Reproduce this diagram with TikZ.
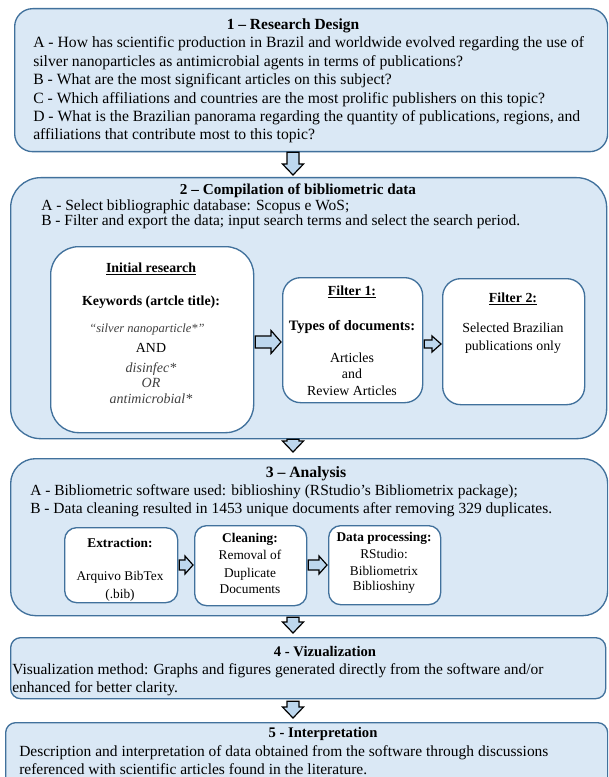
\documentclass[tikz,border=0pt]{standalone}
\usepackage{fontspec}
\setmainfont{Liberation Serif}
\usetikzlibrary{calc}
\definecolor{boxfill}{HTML}{DAE8F5}
\definecolor{boxline}{HTML}{41719C}
\definecolor{arrfill}{HTML}{BDD7EE}
\definecolor{kwgray}{HTML}{404040}
\tikzset{
  stage/.style={draw=boxline, fill=boxfill, line width=1pt, inner sep=0pt, anchor=north west},
  innerbox/.style={draw=boxline, fill=white, line width=1pt, inner sep=0pt, anchor=north west},
  blockarrow/.style={draw=black, fill=arrfill, line width=0.9pt, line join=miter},
  ttl/.style={font=\fontsize{11.6}{14}\selectfont\bfseries, inner sep=0pt, anchor=base},
  ttlsm/.style={font=\fontsize{11}{14}\selectfont\bfseries, inner sep=0pt, anchor=base},
  txta/.style={font=\fontsize{11.75}{13.8}\selectfont, inner sep=0pt, anchor=base west},
  txtc/.style={font=\fontsize{11.6}{13.8}\selectfont, inner sep=0pt, anchor=base west},
  itxt/.style={font=\fontsize{10.4}{12}\selectfont, inner sep=0pt, anchor=base},
  ibold/.style={font=\fontsize{10.4}{12}\selectfont\bfseries, inner sep=0pt, anchor=base},
  stxt/.style={font=\fontsize{10}{12}\selectfont, inner sep=0pt, anchor=base},
  sbold/.style={font=\fontsize{10}{12}\selectfont\bfseries, inner sep=0pt, anchor=base},
  ikw/.style={font=\fontsize{10.5}{12}\selectfont\itshape, text=kwgray, inner sep=0pt, anchor=base},
}
% box: name, style, x1, y1, x2, y2, radius (px)
\newcommand\mkbox[7]{\node[#2, rounded corners=#7*0.75pt, minimum width={(#5-#3)*0.75pt}, minimum height={(#6-#4)*0.75pt}] (#1) at (#3,#4) {};}
% down block arrow: from, to, top gap, bottom gap (px)
\newcommand\darrow[4]{\draw[blockarrow] let \p1=(#1.south -| axis), \p2=(#2.north -| axis) in
  (\x1-4.5pt,\y1-#3*0.75pt) -- (\x1+4.5pt,\y1-#3*0.75pt) -- (\x1+4.5pt,\y2+#4*0.75pt+8.25pt) -- (\x1+7.9pt,\y2+#4*0.75pt+8.25pt) -- (\x1,\y2+#4*0.75pt) -- (\x1-7.9pt,\y2+#4*0.75pt+8.25pt) -- (\x1-4.5pt,\y2+#4*0.75pt+8.25pt) -- cycle;}
% right block arrow: from, to, y (px), shaft half, head half, head length (px)
\newcommand\rarrow[6]{\draw[blockarrow] let \p1=(#1.east), \p2=(#2.west) in
  (\x1+0.75pt,-#3*0.75pt+#4*0.75pt) -- (\x2-0.75pt-#6*0.75pt,-#3*0.75pt+#4*0.75pt) -- (\x2-0.75pt-#6*0.75pt,-#3*0.75pt+#5*0.75pt) -- (\x2-0.75pt,-#3*0.75pt) -- (\x2-0.75pt-#6*0.75pt,-#3*0.75pt-#5*0.75pt) -- (\x2-0.75pt-#6*0.75pt,-#3*0.75pt-#4*0.75pt) -- (\x1+0.75pt,-#3*0.75pt-#4*0.75pt) -- cycle;}
\begin{document}
\begin{tikzpicture}[x=0.75pt,y=-0.75pt]
\clip (0,0) rectangle (608,777);
\fill[white] (0,0) rectangle (608,777);
\coordinate (axis) at (293,0);
% stage boxes
\mkbox{b1}{stage}{14}{8}{607}{151}{18}
\mkbox{b2}{stage}{10}{177}{606}{438}{30}
\mkbox{b3}{stage}{10}{458}{607}{615}{25}
\mkbox{b4}{stage}{10}{637}{605}{698}{10}
\mkbox{b5}{stage}{5}{722}{607}{810}{10}
% inner boxes
\mkbox{init}{innerbox}{50}{246}{253}{432}{28}
\mkbox{f1}{innerbox}{282}{277}{422}{402}{18}
\mkbox{f2}{innerbox}{442}{278}{584}{404}{18}
\mkbox{ext}{innerbox}{64}{527}{177}{602}{12}
\mkbox{cln}{innerbox}{194}{525}{306}{605}{12}
\mkbox{dat}{innerbox}{328}{525}{440}{604}{12}
% arrows
\darrow{b1}{b2}{0}{2}
\darrow{b2}{b3}{0}{6}
\darrow{b3}{b4}{1}{4}
\darrow{b4}{b5}{2}{4}
\rarrow{init}{f1}{342}{6}{11.5}{10}
\rarrow{f1}{f2}{344}{4}{8}{9}
\rarrow{ext}{cln}{565}{5}{9}{8}
\rarrow{cln}{dat}{565}{5}{9}{8}
% box 1 text
\node[ttl] (t1) at (293,30) {1 – Research Design};
\node[txta] (b1a) at (33,48) {A - How has scientific production in Brazil and worldwide evolved regarding the use of};
\node[txta] (b1b) at (33,66.4) {silver nanoparticles as antimicrobial agents in terms of publications?};
\node[txta] (b1c) at (33,84.8) {B - What are the most significant articles on this subject?};
\node[txta] (b1d) at (33,103.2) {C - Which affiliations and countries are the most prolific publishers on this topic?};
\node[txta] (b1e) at (33,121.6) {D - What is the Brazilian panorama regarding the quantity of publications, regions, and};
\node[txta] (b1f) at (33,140) {affiliations that contribute most to this topic?};
% box 2 text
\node[ttl, font=\fontsize{11.4}{14}\selectfont\bfseries] (t2) at (298,195) {2 – Compilation of bibliometric data};
\node[txtc] (b2a) at (41,210) {A - Select bibliographic database: Scopus e WoS;};
\node[txtc] (b2b) at (41,225) {B - Filter and export the data; input search terms and select the search period.};
\node[ibold] (i1) at (151,272) {\underline{Initial research}};
\node[ibold] (i2) at (151,305) {Keywords (artcle title):};
\node[ikw, font=\fontsize{9.4}{12}\selectfont\itshape] (i3) at (147,332) {“silver nanoparticle*”};
\node[itxt] (i4) at (151,352) {AND};
\node[ikw] (i5) at (151,372) {disinfec*};
\node[ikw] (i6) at (151,387) {OR};
\node[ikw] (i7) at (151,403) {antimicrobial*};
\node[ibold] (f1a) at (352,295) {\underline{Filter 1:}};
\node[ibold, font=\fontsize{10.8}{12}\selectfont\bfseries] (f1b) at (352,330) {Types of documents:};
\node[itxt] (f1c) at (352,362) {Articles};
\node[itxt] (f1d) at (352,378) {and};
\node[itxt] (f1e) at (352,395) {Review Articles};
\node[ibold] (f2a) at (513,302) {\underline{Filter 2:}};
\node[itxt] (f2b) at (513,332) {Selected Brazilian};
\node[itxt] (f2c) at (513,350) {publications only};
% box 3 text
\node[ttl, font=\fontsize{11.8}{14}\selectfont\bfseries] (t3) at (306,477) {3 – Analysis};
\node[txtc] (b3a) at (30,495) {A - Bibliometric software used: biblioshiny (RStudio's Bibliometrix package);};
\node[txtc] (b3b) at (30,513) {B - Data cleaning resulted in 1453 unique documents after removing 329 duplicates.};
\node[sbold] (e1) at (120,547) {Extraction:};
\node[stxt] (e2) at (120,580) {Arquivo BibTex};
\node[stxt] (e3) at (120,598) {(.bib)};
\node[sbold] (c1) at (250,542) {Cleaning:};
\node[stxt] (c2) at (250,559) {Removal of};
\node[stxt] (c3) at (250,577) {Duplicate};
\node[stxt] (c4) at (250,593) {Documents};
\node[sbold] (d1) at (384,541) {Data processing:};
\node[stxt] (d2) at (384,558) {RStudio:};
\node[stxt] (d3) at (384,575) {Bibliometrix};
\node[stxt] (d4) at (384,590) {Biblioshiny};
% box 4 text
\node[ttlsm] (t4) at (325,656) {4 - Vizualization};
\node[txtc] (b4a) at (12,674) {Visualization method: Graphs and figures generated directly from the software and/or};
\node[txtc] (b4b) at (12,692) {enhanced for better clarity.};
% box 5 text
\node[ttlsm] (t5) at (323,737) {5 - Interpretation};
\node[txtc] (b5a) at (19,756) {Description and interpretation of data obtained from the software through discussions};
\node[txtc] (b5b) at (19,774) {referenced with scientific articles found in the literature.};
\end{tikzpicture}
\end{document}
